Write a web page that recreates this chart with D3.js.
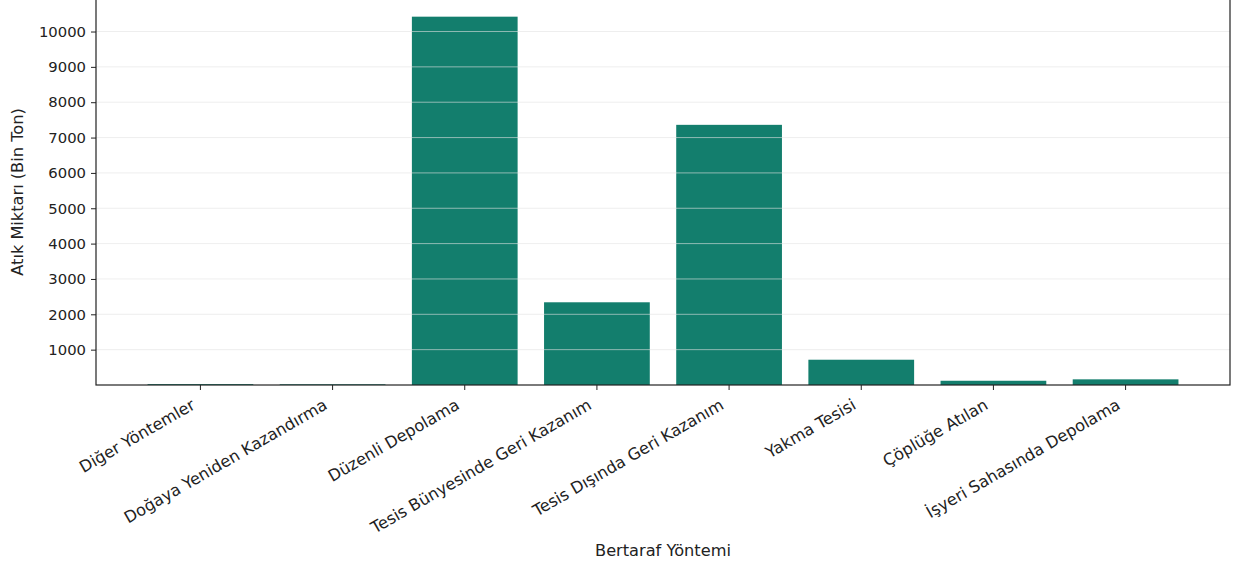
<!DOCTYPE html>
<html lang="tr">
<head>
<meta charset="UTF-8">
<title>Bertaraf Yöntemi</title>
<script src="https://d3js.org/d3.v7.min.js"></script>
<style>
    body { margin: 0; background: #fff; }
    text { font-family: "DejaVu Sans", sans-serif; fill: #222; }
</style>
</head>
<body>
<svg id="chart" width="1235" height="567"></svg>
<script>
    // data (bin ton)
    const methods = ["Diğer Yöntemler", "Doğaya Yeniden Kazandırma", "Düzenli Depolama",
        "Tesis Bünyesinde Geri Kazanım", "Tesis Dışında Geri Kazanım", "Yakma Tesisi",
        "Çöplüğe Atılan", "İşyeri Sahasında Depolama"];
    const amounts = [25, 20, 10420, 2340, 7360, 715, 120, 160];
    const yTicks = [1000, 2000, 3000, 4000, 5000, 6000, 7000, 8000, 9000, 10000];

    const plotLeft = 96, plotRight = 1230, plotBottom = 385, plotTop = -1;
    const svg = d3.select("#chart");

    // matplotlib-like band layout: 0.8 wide bars, 5% margins
    const x = d3.scaleLinear().domain([-0.79, methods.length - 1 + 0.79]).range([plotLeft, plotRight]);
    const y = d3.scaleLinear().domain([0, 10920]).range([plotBottom, plotTop]);
    const barW = x(0.8) - x(0);

    svg.selectAll("rect.bar")
        .data(amounts)
        .enter()
        .append("rect")
        .attr("class", "bar")
        .attr("x", (d, i) => x(i) - barW / 2)
        .attr("y", d => y(d))
        .attr("width", barW)
        .attr("height", d => y(0) - y(d))
        .attr("fill", "#137e6d");

    // grid sits above bars
    svg.append("g")
        .selectAll("line")
        .data(yTicks)
        .enter()
        .append("line")
        .attr("x1", plotLeft).attr("x2", plotRight)
        .attr("y1", d => y(d)).attr("y2", d => y(d))
        .attr("stroke", "#e2e2e2")
        .attr("stroke-opacity", 0.6)
        .attr("stroke-width", 1);

    // y axis
    const yAxis = d3.axisLeft(y).tickValues(yTicks).tickSize(5).tickPadding(5).tickFormat(d3.format("d"));
    const gy = svg.append("g").attr("transform", "translate(" + plotLeft + ",0)").call(yAxis);
    gy.select(".domain").remove();
    gy.selectAll("line").attr("stroke", "#222");
    gy.selectAll("text").style("font-size", "14.8px").style("fill", "#222");

    // x axis ticks + rotated labels (right edge of rotated box on the tick)
    const gx = svg.append("g");
    gx.selectAll("line")
        .data(methods)
        .enter()
        .append("line")
        .attr("x1", (d, i) => x(i)).attr("x2", (d, i) => x(i))
        .attr("y1", plotBottom).attr("y2", plotBottom + 5)
        .attr("stroke", "#222");
    gx.selectAll("text")
        .data(methods)
        .enter()
        .append("text")
        .attr("transform", (d, i) => "translate(" + (x(i) - 10) + "," + (plotBottom + 13) + ") rotate(-30)")
        .attr("text-anchor", "end")
        .attr("dy", "0.72em")
        .style("font-size", "16.2px")
        .text(d => d);

    // spines
    svg.append("rect")
        .attr("x", plotLeft).attr("y", plotTop)
        .attr("width", plotRight - plotLeft).attr("height", plotBottom - plotTop)
        .attr("fill", "none")
        .attr("stroke", "#222")
        .attr("stroke-width", 1.2);

    svg.append("text")
        .attr("x", (plotLeft + plotRight) / 2).attr("y", 556)
        .attr("text-anchor", "middle")
        .style("font-size", "16.2px")
        .text("Bertaraf Yöntemi");

    svg.append("text")
        .attr("transform", "translate(23," + (plotBottom + plotTop) / 2 + ") rotate(-90)")
        .attr("text-anchor", "middle")
        .style("font-size", "16.2px")
        .text("Atık Miktarı (Bin Ton)");
</script>
</body>
</html>
